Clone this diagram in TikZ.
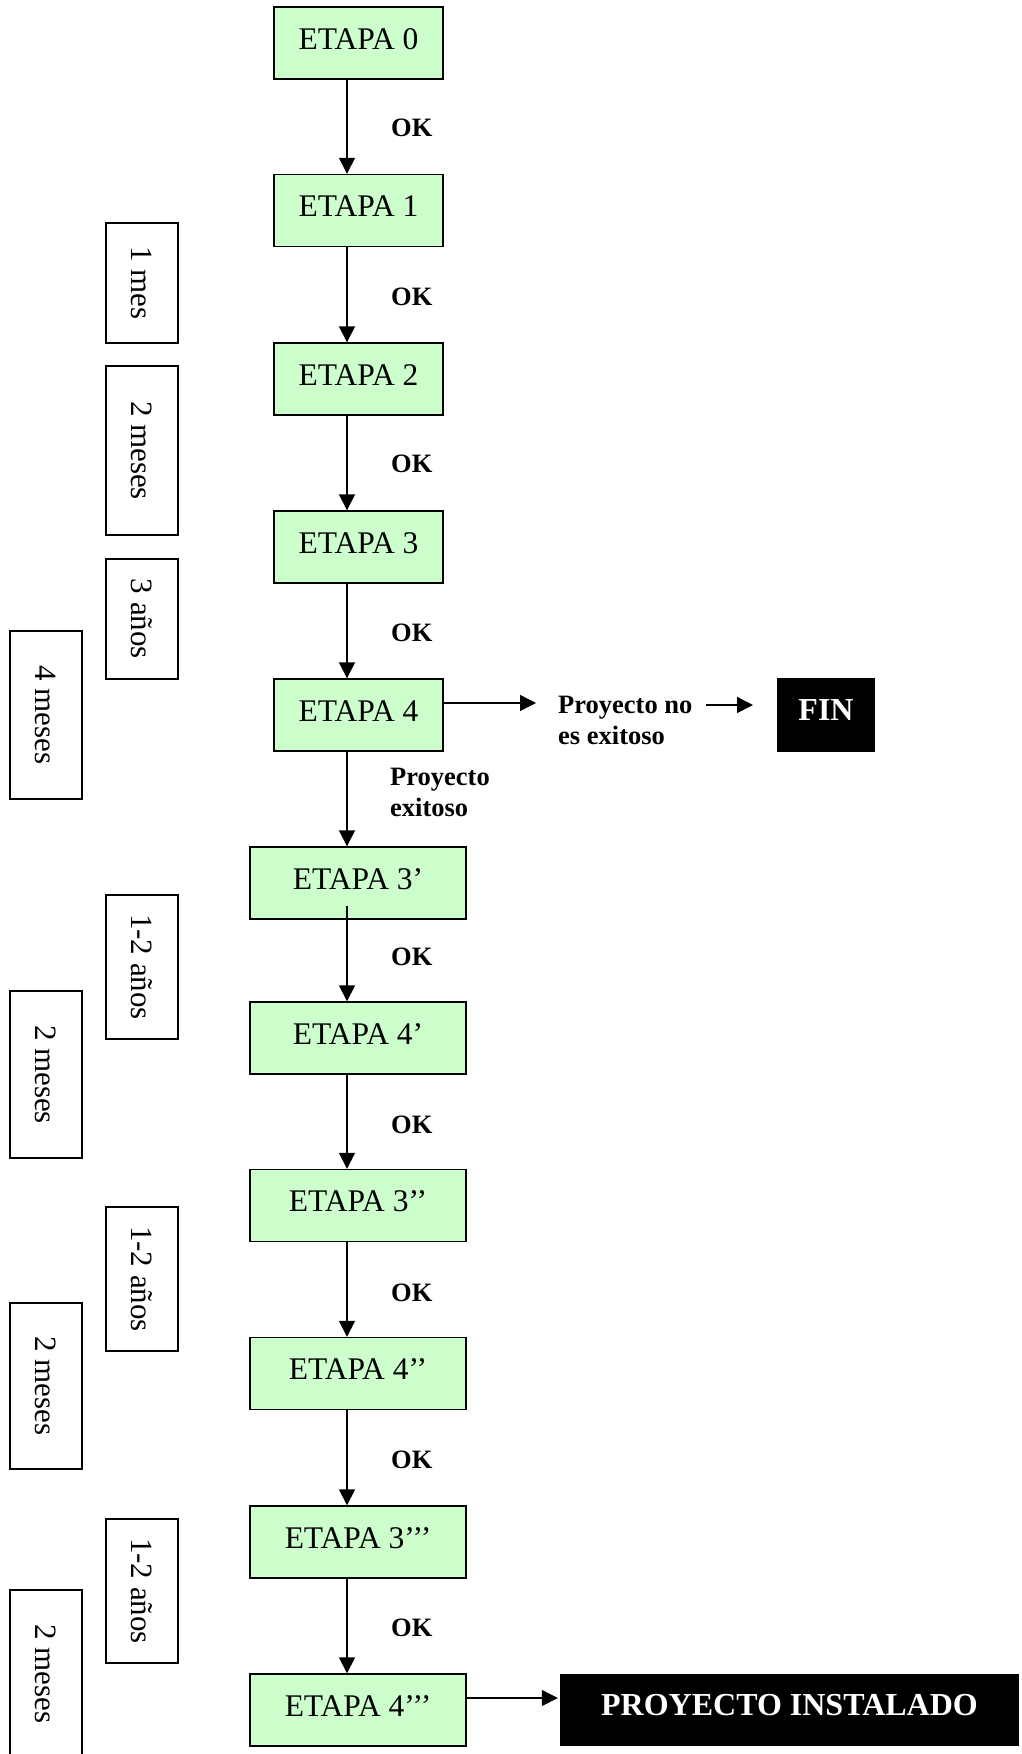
\documentclass[tikz,border=0pt]{standalone}
\usepackage{fontspec}
\setmainfont{Liberation Serif}
\usetikzlibrary{arrows.meta}
\definecolor{etapagreen}{HTML}{CCFFCC}
\tikzset{
  etapa/.style={draw, line width=1.4pt, fill=etapagreen, inner sep=0pt,
    minimum height=72pt, font=\fontsize{31.5}{36}\selectfont,
    text height=22pt, text depth=10pt},
  upper/.style={etapa, minimum width=169pt},
  lower/.style={etapa, minimum width=216pt},
  dur/.style={draw, line width=1.3pt, fill=white, inner sep=0pt,
    minimum width=72pt, font=\fontsize{31}{36}\selectfont},
  lab/.style={font=\bfseries\fontsize{26.5}{31}\selectfont, inner sep=0pt, anchor=base west},
  endbox/.style={fill=black, text=white, inner sep=0pt,
    font=\bfseries\fontsize{32}{36}\selectfont, text height=22pt, text depth=12pt},
  arr/.style={line width=1.4pt, -{Triangle[length=16pt,width=16pt]}}
}
\begin{document}
\begin{tikzpicture}[x=1pt,y=-1pt]
\useasboundingbox (0,0) rectangle (1021,1754);
\fill[white] (0,0) rectangle (1021,1754);
\clip (0,0) rectangle (1021,1754);
\coordinate (ax) at (347,0);
% stages
\node[upper] (E0) at (358.5,43) {ETAPA 0};
\node[upper] (E1) at (358.5,210.5) {ETAPA 1};
\node[upper] (E2) at (358.5,379) {ETAPA 2};
\node[upper] (E3) at (358.5,547) {ETAPA 3};
\node[upper] (E4) at (358.5,715) {ETAPA 4};
\node[lower] (E3a) at (358,883) {ETAPA 3’};
\node[lower] (E4a) at (358,1038) {ETAPA 4’};
\node[lower] (E3b) at (358,1205.5) {ETAPA 3’’};
\node[lower] (E4b) at (358,1373.5) {ETAPA 4’’};
\node[lower] (E3c) at (358,1542) {ETAPA 3’’’};
\node[lower] (E4c) at (358,1710) {ETAPA 4’’’};
% end boxes
\node[endbox, minimum width=98pt, minimum height=74pt] (FIN) at (826,715) {FIN};
\node[endbox, minimum width=459pt, minimum height=72pt] (PI) at (789.5,1710) {PROYECTO INSTALADO};
% durations
\node[dur, minimum height=120pt] (d1) at (142,283) {\rotatebox{-90}{1 mes}};
\node[dur, minimum height=169pt] (d2) at (142,450.5) {\rotatebox{-90}{2 meses}};
\node[dur, minimum height=120pt] (d3) at (142,619) {\rotatebox{-90}{3 años}};
\node[dur, minimum height=168pt] (d4) at (46,715) {\rotatebox{-90}{4 meses}};
\node[dur, minimum height=144pt] (d5) at (142,967) {\rotatebox{-90}{1-2 años}};
\node[dur, minimum height=167pt] (d6) at (46,1074.5) {\rotatebox{-90}{2 meses}};
\node[dur, minimum height=144pt] (d7) at (142,1279) {\rotatebox{-90}{1-2 años}};
\node[dur, minimum height=166pt] (d8) at (46,1386) {\rotatebox{-90}{2 meses}};
\node[dur, minimum height=144pt] (d9) at (142,1591) {\rotatebox{-90}{1-2 años}};
\node[dur, minimum height=168pt] (d10) at (46,1674) {\rotatebox{-90}{2 meses}};
% labels
\node[lab] (ok1) at (391,136.5) {OK};
\node[lab] (ok2) at (391,305.5) {OK};
\node[lab] (ok3) at (391,472.5) {OK};
\node[lab] (ok4) at (391,641.5) {OK};
\node[lab] (ok5) at (391,965.5) {OK};
\node[lab] (ok6) at (391,1133.5) {OK};
\node[lab] (ok7) at (391,1301.5) {OK};
\node[lab] (ok8) at (391,1468.5) {OK};
\node[lab] (ok9) at (391,1636.5) {OK};
\node[lab] (pex) at (390,785) {\begin{tabular}[t]{@{}l@{}}Proyecto\\exitoso\end{tabular}};
\node[lab] (pno) at (558,713) {\begin{tabular}[t]{@{}l@{}}Proyecto no\\es exitoso\end{tabular}};
\coordinate (a1) at (536,703);
\coordinate (a2s) at (706,705);
\coordinate (a2e) at (753,705);
% connectors
\draw[arr] (E0.south -| ax) -- (E1.north -| ax);
\draw[arr] (E1.south -| ax) -- (E2.north -| ax);
\draw[arr] (E2.south -| ax) -- (E3.north -| ax);
\draw[arr] (E3.south -| ax) -- (E4.north -| ax);
\draw[arr] (E4.south -| ax) -- (E3a.north -| ax);
\draw[arr] ([yshift=-23pt]E3a.center -| ax) -- (E4a.north -| ax);
\draw[arr] (E4a.south -| ax) -- (E3b.north -| ax);
\draw[arr] (E3b.south -| ax) -- (E4b.north -| ax);
\draw[arr] (E4b.south -| ax) -- (E3c.north -| ax);
\draw[arr] (E3c.south -| ax) -- (E4c.north -| ax);
\draw[arr] ([yshift=12pt]E4.east) -- (a1);
\draw[arr] (a2s) -- (a2e);
\draw[arr] ([yshift=12pt]E4c.east) -- ([yshift=12pt,xshift=-2pt]PI.west);
\end{tikzpicture}
\end{document}
